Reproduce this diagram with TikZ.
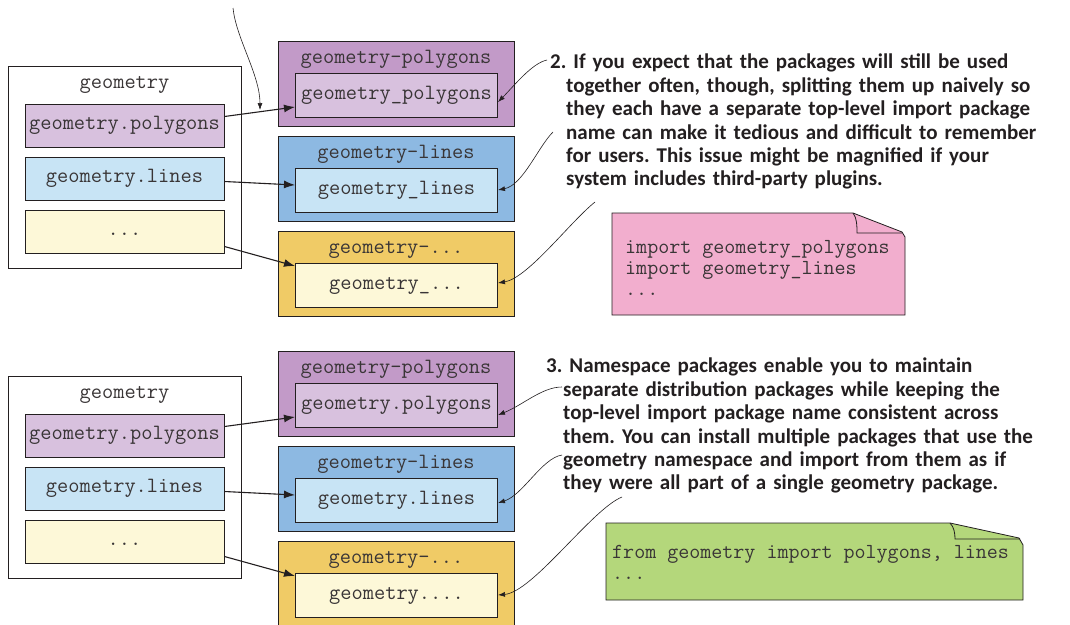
\documentclass[tikz,border=0pt]{standalone}
\usepackage{fontspec}
\setmainfont{Carlito}
\usetikzlibrary{positioning,arrows.meta}
\definecolor{polyDark}{RGB}{194,154,200}
\definecolor{polyLight}{RGB}{216,193,222}
\definecolor{lineDark}{RGB}{141,185,226}
\definecolor{lineLight}{RGB}{200,228,245}
\definecolor{dotsDark}{RGB}{240,203,102}
\definecolor{dotsLight}{RGB}{253,248,216}
\definecolor{notePink}{RGB}{242,174,206}
\definecolor{noteGreen}{RGB}{180,215,123}
\definecolor{ink}{RGB}{35,31,32}
\newcommand{\ellip}{.{}.{}.}
\frenchspacing
\tikzset{
  code/.style={font=\fontsize{21.8}{23}\selectfont\ttfamily, text=ink!90, inner sep=0pt},
  frame/.style={draw=ink, line width=1pt, inner sep=0pt},
  modbox/.style={frame, code, minimum width=199pt, minimum height=43pt, text height=12pt, text depth=4pt},
  innerbox/.style={modbox, minimum width=202pt, minimum height=44pt},
  pkgbox/.style={frame, minimum width=236pt, minimum height=85pt},
  link/.style={ink, line width=1.1pt, -{Latex[length=11pt,width=8pt]}},
  pointer/.style={ink, line width=0.6pt, -{Latex[length=7pt,width=5pt]}},
  remark/.style={font=\fontsize{21}{23.4}\selectfont\bfseries, text=ink, text width=560pt, align=left, inner sep=0pt},
  snippet/.style={font=\fontsize{21.4}{21}\selectfont\ttfamily, text=ink!90, align=left, inner sep=0pt}
}
\begin{document}
\begin{tikzpicture}[x=1pt,y=-1pt]
\useasboundingbox[fill=white] (0,0) rectangle (1070,624);
\foreach \sec/\yo/\sep in {a/0/\_, b/310/.}{
  \node[frame, minimum width=233pt, minimum height=202pt] (\sec-g) at (124.5,167+\yo) {};
  \node[code, anchor=base] (\sec-gt) at (124.5,88+\yo) {geometry};
  \foreach \i/\nm/\lft/\col/\fy/\ty in {0/polygons/geometry.polygons/poly/9/-12,
    1/lines/geometry.lines/line/-3/5, 2/\ellip/\ellip/dots/-15/19}{
    \node[modbox, fill=\col Light] (\sec-l\i) at (124.5,125.5+53*\i+\yo) {\lft};
    \node[pkgbox, fill=\col Dark] (\sec-p\i) at (396,83.5+95*\i+\yo) {};
    \node[code, anchor=base] (\sec-pt\i) at (396,63+95*\i+\yo) {geometry-\nm};
    \node[innerbox, fill=\col Light] (\sec-q\i) at (396.5,95+95*\i+\yo) {geometry\sep\nm};
    \draw[link] ([yshift=\fy pt]\sec-l\i.east) -- ([yshift=\ty pt]\sec-q\i.west);
  }
}
\coordinate (split) at (233,8);
\coordinate (splittip) at (260,110);
\draw[pointer] (split) .. controls +(3,30) and +(0,-35) .. (splittip);

\node[remark, anchor=north west] (why2) at (550,54) {2. If you expect that the packages will still be used\\
  \hspace*{16pt}together often, though, splitting them up naively so\\
  \hspace*{16pt}they each have a separate top-level import package\\
  \hspace*{16pt}name can make it tedious and difficult to remember\\
  \hspace*{16pt}for users. This issue might be magnified if your\\
  \hspace*{16pt}system includes third-party plugins.};
\node[remark, anchor=north west] (why3) at (546,358) {3. Namespace packages enable you to maintain\\
  \hspace*{17pt}separate distribution packages while keeping the\\
  \hspace*{17pt}top-level import package name consistent across\\
  \hspace*{17pt}them. You can install multiple packages that use the\\
  \hspace*{17pt}geometry namespace and import from them as if\\
  \hspace*{17pt}they were all part of a single geometry package.};

\coordinate (a-c0) at (547,60);
\coordinate (a-c1) at (553,132);
\coordinate (a-c2) at (595,202);
\coordinate (b-c0) at (562,387);
\coordinate (b-c1) at (562,455);
\coordinate (b-c2) at (622,497);
\draw[pointer] (a-c0) .. controls +(-15,3) and +(15,-15) .. ([yshift=-7pt]a-q0.east);
\draw[pointer] (a-c1) .. controls +(-15,15) and +(25,-5) .. ([yshift=0pt]a-q1.east);
\draw[pointer] (a-c2) .. controls +(-25,20) and +(30,-5) .. ([yshift=2pt]a-q2.east);
\draw[pointer] (b-c0) .. controls +(-20,0) and +(25,-10) .. ([yshift=-10pt]b-q0.east);
\draw[pointer] (b-c1) .. controls +(-20,3) and +(25,-8) .. ([yshift=-3pt]b-q1.east);
\draw[pointer] (b-c2) .. controls +(-30,12) and +(35,-3) .. ([yshift=0pt]b-q2.east);

\filldraw[fill=notePink, draw=ink, line width=0.8pt] (612,213) -- (853,213) -- (902,232)
  -- (905,237) -- (905,315) -- (612,315) -- cycle;
\draw[ink, line width=0.8pt] (853,213) .. controls (857,218) and (857,226) .. (857,233) -- (902,233);
\node[snippet, anchor=north west] (flat) at (625,240) {import geometry\_polygons\\import geometry\_lines\\\ellip};

\filldraw[fill=noteGreen, draw=ink, line width=0.8pt] (606,523) -- (950,523) -- (1019,538)
  -- (1023,545) -- (1023,600) -- (606,600) -- cycle;
\draw[ink, line width=0.8pt] (950,523) .. controls (954,527) and (955,533) .. (955,539) -- (1020,539);
\node[snippet, anchor=north west] (nested) at (612,545) {from geometry import polygons, lines\\\ellip};
\end{tikzpicture}
\end{document}
